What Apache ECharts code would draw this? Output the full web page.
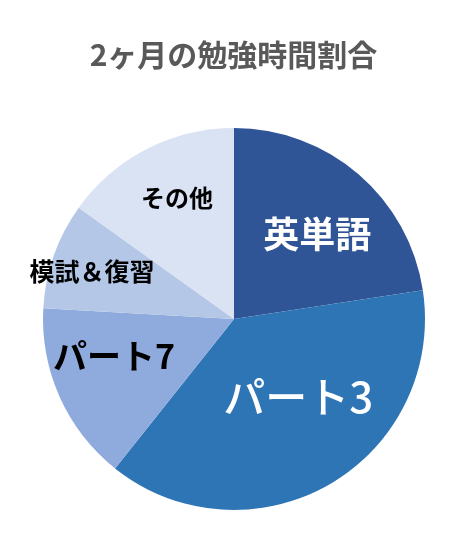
<!DOCTYPE html>
<html>
<head>
<meta charset="utf-8">
<script src="https://cdn.jsdelivr.net/npm/echarts@6/dist/echarts.min.js"></script>
<style>
  html, body { margin: 0; padding: 0; background: #fff; }
  #chart { width: 467px; height: 533px; }
</style>
</head>
<body>
<div id="chart"></div>
<script>
const titleText = '2ヶ月の勉強時間割合';
const categories = ['英単語', 'パート3', 'パート7', '模試＆復習', 'その他'];
const values = [22.6, 38.1, 15.2, 9.0, 15.1];

const colors = ['#2F5597', '#2E75B6', '#8FAADC', '#B4C7E7', '#DAE3F3'];
const labelColors = ['#fff', '#fff', '#000', '#000', '#000'];
const labelSizes = [36, 42, 34, 25, 24];
const labelWeights = ['bold', 500, 'bold', 'bold', 'bold'];
// nudge the inside labels off the mid radius like the original
const labelShift = [[19, -10], [15, -7], [-30, -3], [-49, -15], [-12, -34]];

const getOptionChart = () => {
  const data = categories.map((name, i) => ({
    name: name,
    value: values[i],
    itemStyle: { color: colors[i] },
    label: {
      color: labelColors[i],
      fontSize: labelSizes[i],
      fontWeight: labelWeights[i]
    }
  }));
  return {
    textStyle: { fontFamily: '"Noto Sans CJK JP", sans-serif' },
    title: {
      text: titleText,
      left: 'center',
      top: 35,
      textStyle: {
        color: '#595959',
        fontSize: 30,
        fontWeight: 'bold',
        fontFamily: '"Noto Sans CJK JP", sans-serif'
      }
    },
    series: [{
      type: 'pie',
      center: [234, 319],
      radius: 191,
      startAngle: 90,
      clockwise: true,
      animation: false,
      silent: true,
      itemStyle: { borderWidth: 0 },
      label: {
        show: true,
        position: 'inside',
        formatter: '{b}',
        fontFamily: '"Noto Sans CJK JP", sans-serif'
      },
      labelLine: { show: false },
      labelLayout: (params) => ({
        dx: labelShift[params.dataIndex][0],
        dy: labelShift[params.dataIndex][1]
      }),
      data: data
    }]
  };
};

const initCharts = () => {
  const chart = echarts.init(document.getElementById('chart'));
  chart.setOption(getOptionChart());
};

window.addEventListener('load', () => {
  initCharts();
});
</script>
</body>
</html>
